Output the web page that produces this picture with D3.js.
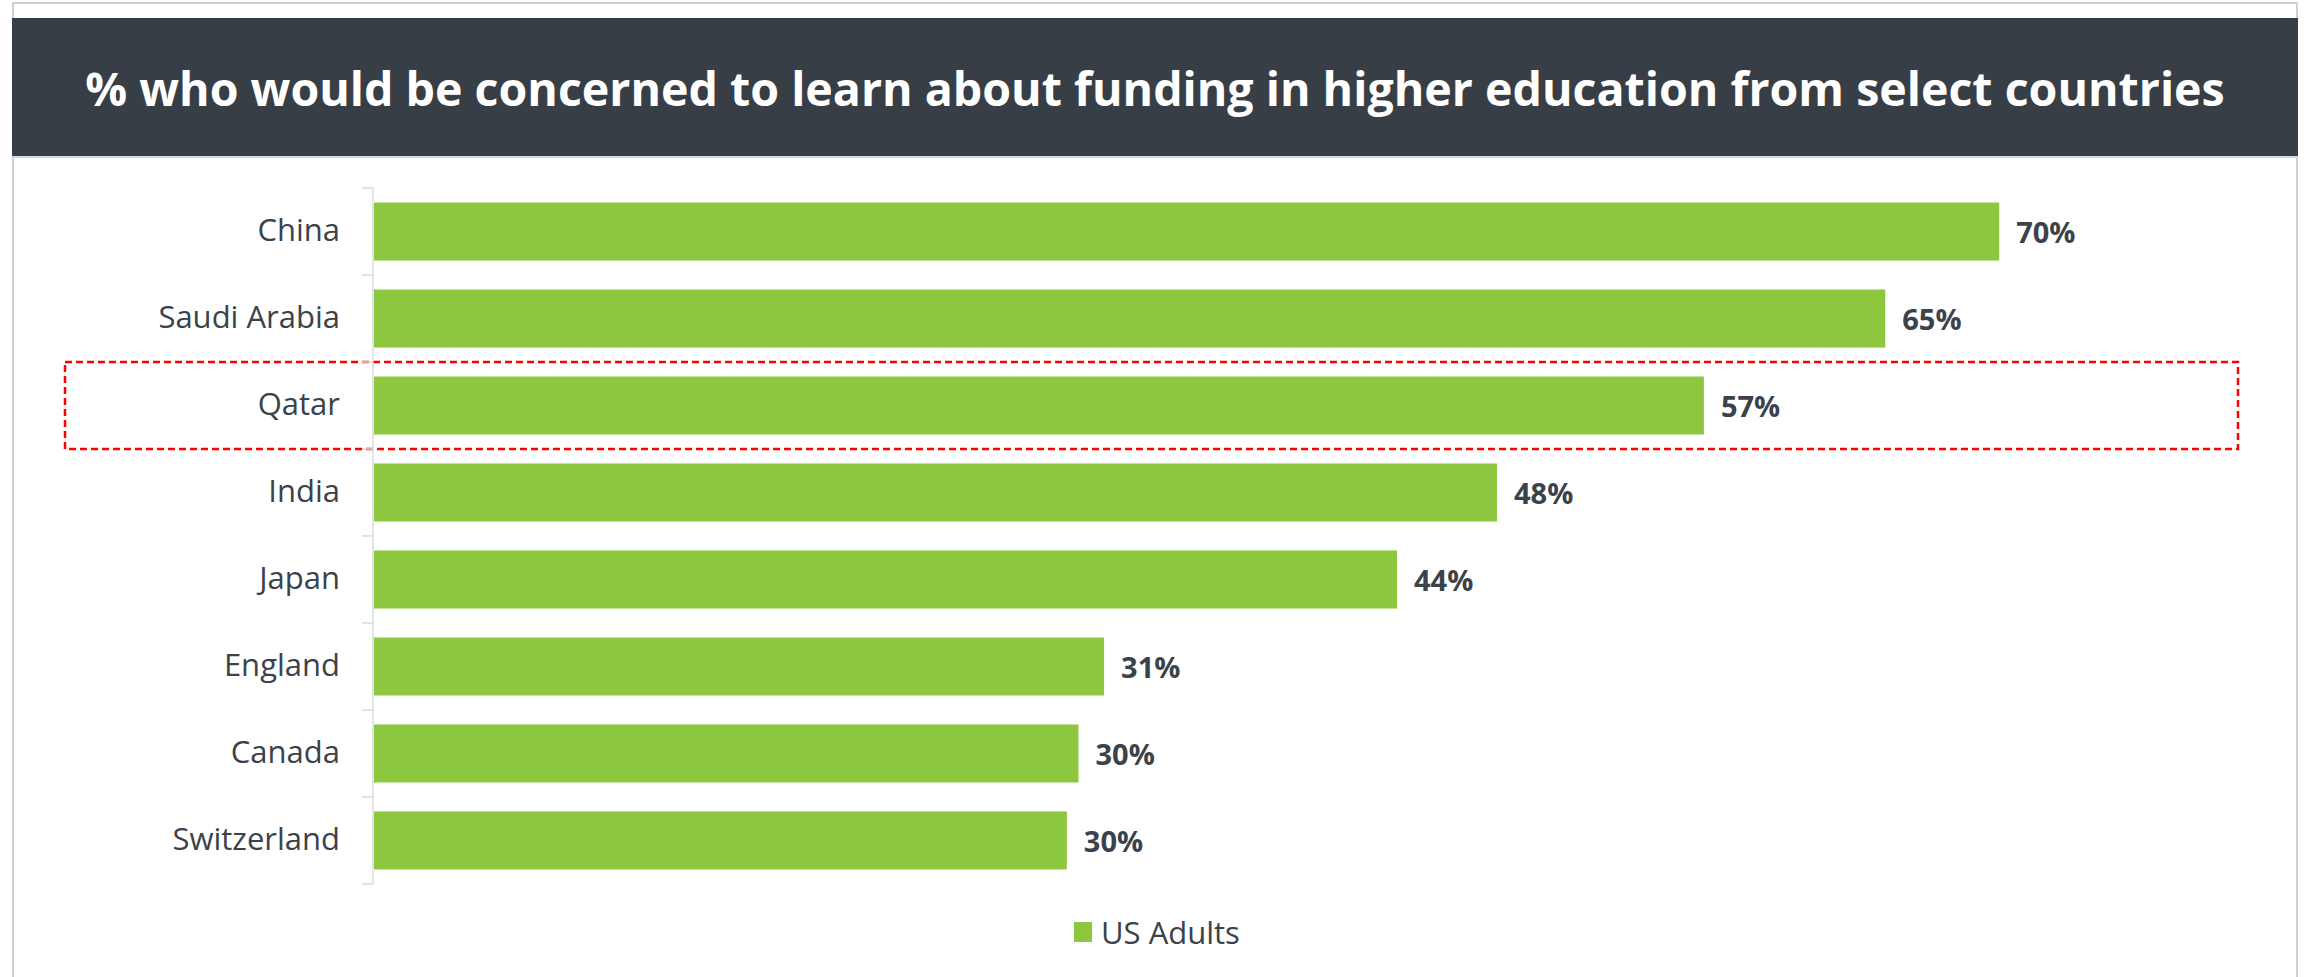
<!DOCTYPE html>
<html>
<head>
<meta charset="utf-8">
<script src="https://cdn.jsdelivr.net/npm/d3@7"></script>
<style>
  html, body { margin: 0; padding: 0; background: #fff; }
  svg { display: block; }
</style>
</head>
<body>
<div id="chart"></div>
<script>
// data
const countries = ["China", "Saudi Arabia", "Qatar", "India", "Japan", "England", "Canada", "Switzerland"];
const usAdults = [0.699, 0.650, 0.572, 0.483, 0.440, 0.314, 0.303, 0.298];
const seriesName = "US Adults";
const highlighted = "Qatar";
const titleText = "% who would be concerned to learn about funding in higher education from select countries";

const W = 2305, H = 977;
const font = "'Open Sans', 'Noto Sans', sans-serif";
const green = "#8dc63f";
const ink = "#3b424a";

const svg = d3.select("#chart").append("svg")
	.attr("width", W).attr("height", H);

// frame
svg.append("path")
	.attr("d", `M13,${H} V3 H2297 V${H}`)
	.attr("fill", "none")
	.attr("stroke", "#c9d3d9")
	.attr("stroke-width", 2);

// title bar
svg.append("rect")
	.attr("x", 12).attr("y", 18)
	.attr("width", 2286).attr("height", 138)
	.attr("fill", "#373e46");
svg.append("line")
	.attr("x1", 12).attr("x2", 2298)
	.attr("y1", 157).attr("y2", 157)
	.attr("stroke", "#d3dbe0").attr("stroke-width", 2);

const title = svg.append("text")
	.attr("x", 1155).attr("y", 88)
	.attr("text-anchor", "middle")
	.attr("dominant-baseline", "central")
	.attr("fill", "#fff")
	.style("font-family", font)
	.style("font-weight", 700)
	.style("font-size", "50px")
	.text(titleText);
// size the heading so it spans about the same width as the original
const tw = title.node().getComputedTextLength();
title.style("font-size", Math.min(52, 50 * 2140 / tw) + "px");

// scales
const x = d3.scaleLinear().domain([0, 0.8]).range([374, 2234]);
const y = d3.scaleBand().domain(countries).range([188, 884]).paddingInner(0.333).paddingOuter(0.167);
const rows = countries.map((c, i) => ({ country: c, value: usAdults[i] }));

// highlight box around one row
const hy = y(highlighted) - y.step() * y.paddingInner() / 2;
svg.append("rect")
	.attr("x", 65).attr("y", hy)
	.attr("width", 2173).attr("height", y.step())
	.attr("fill", "none")
	.attr("stroke", "#ff0000")
	.attr("stroke-width", 2.5)
	.attr("stroke-dasharray", "7,4");

// category axis
const axis = svg.append("g")
	.attr("transform", `translate(${x(0) - 1},0)`)
	.call(d3.axisLeft(y).tickSize(0).tickPadding(33));
axis.select(".domain").remove();
axis.selectAll("text")
	.attr("fill", ink)
	.style("font-family", font)
	.style("font-size", "31px");

// axis line + ticks between bands
const grid = svg.append("g").attr("stroke", "#d5dce1").attr("stroke-width", 1.5);
grid.append("line")
	.attr("x1", x(0) - 1).attr("x2", x(0) - 1)
	.attr("y1", y.range()[0]).attr("y2", y.range()[1]);
const edges = d3.range(countries.length + 1).map(i => y.range()[0] + i * y.step());
grid.selectAll("line.tick").data(edges).join("line")
	.attr("class", "tick")
	.attr("x1", x(0) - 12).attr("x2", x(0) - 1)
	.attr("y1", d => d).attr("y2", d => d);

// bars
svg.append("g").selectAll("rect").data(rows).join("rect")
	.attr("x", x(0))
	.attr("y", d => y(d.country))
	.attr("width", d => x(d.value) - x(0))
	.attr("height", y.bandwidth())
	.attr("fill", green);

// value labels
const pct = d3.format(".0%");
svg.append("g").selectAll("text").data(rows).join("text")
	.attr("x", d => x(d.value) + 17)
	.attr("y", d => y(d.country) + y.bandwidth() / 2)
	.attr("dominant-baseline", "central")
	.attr("fill", ink)
	.style("font-family", font)
	.style("font-weight", 700)
	.style("font-size", "29px")
	.text(d => pct(d.value));

// legend
const legend = svg.append("g").attr("transform", "translate(1074,932)");
legend.append("rect")
	.attr("x", 0).attr("y", -10)
	.attr("width", 18).attr("height", 20)
	.attr("fill", green);
legend.append("text")
	.attr("x", 27).attr("y", 0)
	.attr("dominant-baseline", "central")
	.attr("fill", ink)
	.style("font-family", font)
	.style("font-size", "31px")
	.text(seriesName);
</script>
</body>
</html>
